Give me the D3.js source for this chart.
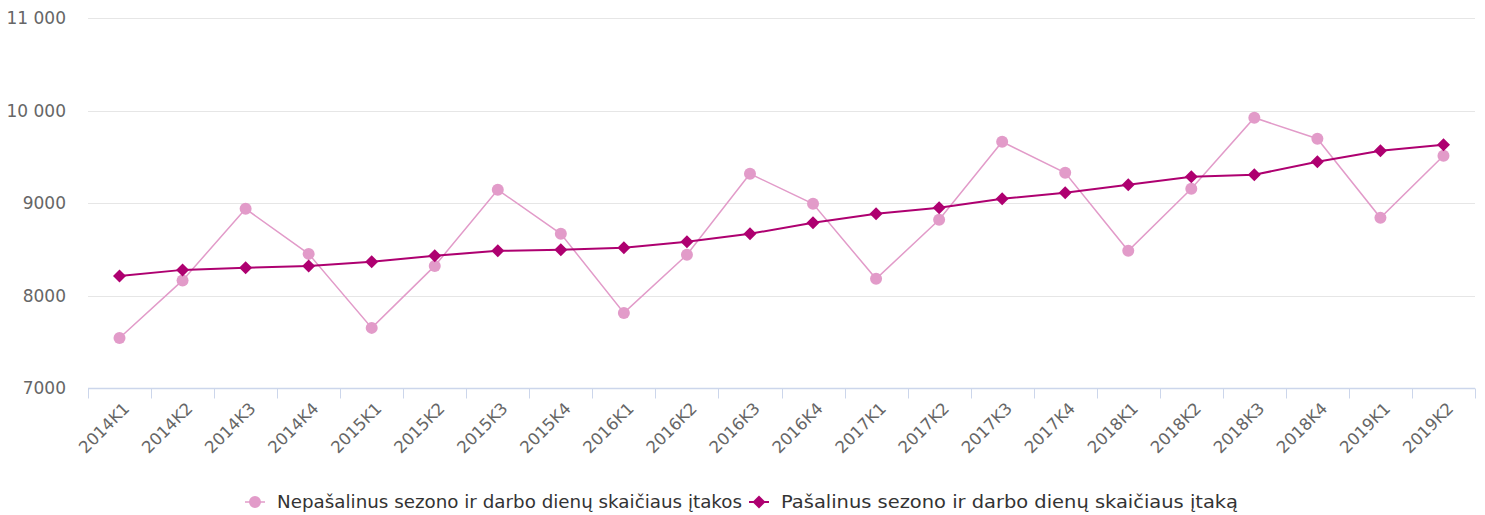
<!DOCTYPE html>
<html>
<head>
<meta charset="utf-8">
<script src="https://cdn.jsdelivr.net/npm/d3@7"></script>
<style>
  body { margin: 0; background: #fff; }
  svg { font-family: "DejaVu Sans", sans-serif; }
</style>
</head>
<body>
<svg id="chart" width="1485" height="515"></svg>
<script>
const quarters = ["2014K1","2014K2","2014K3","2014K4","2015K1","2015K2","2015K3","2015K4",
  "2016K1","2016K2","2016K3","2016K4","2017K1","2017K2","2017K3","2017K4",
  "2018K1","2018K2","2018K3","2018K4","2019K1","2019K2"];
const unadjusted = [7541, 8163, 8937, 8450, 7650, 8320, 9143, 8667,
  7812, 8440, 9316, 8991, 8180, 8818, 9662, 9327,
  8483, 9154, 9922, 9695, 8840, 9511];
const adjusted = [8212, 8277, 8299, 8320, 8364, 8429, 8483, 8494,
  8515, 8580, 8667, 8786, 8883, 8948, 9045, 9110,
  9197, 9284, 9305, 9446, 9565, 9630];
const yTicks = [7000, 8000, 9000, 10000, 11000];
const seriesNames = ["Nepašalinus sezono ir darbo dienų skaičiaus įtakos",
  "Pašalinus sezono ir darbo dienų skaičiaus įtaką"];
const colors = ["#e29bc9", "#ae0070"];

const svg = d3.select("#chart");
const plotLeft = 88, plotRight = 1475, plotTop = 18, plotBottom = 388;

const x = d3.scaleBand().domain(quarters).range([plotLeft, plotRight]);
const y = d3.scaleLinear().domain([7000, 11000]).range([plotBottom, plotTop]);

const fmt = v => v >= 10000 ? d3.format(",")(v).replace(/,/g, " ") : String(v);

// grid lines
svg.append("g").selectAll("line")
    .data(yTicks.filter(t => t > 7000))
    .enter().append("line")
    .attr("x1", plotLeft).attr("x2", plotRight)
    .attr("y1", d => Math.round(y(d)) + 0.5).attr("y2", d => Math.round(y(d)) + 0.5)
    .style("stroke", "#e6e6e6").style("stroke-width", 1);

// y labels
svg.append("g").selectAll("text")
    .data(yTicks)
    .enter().append("text")
    .attr("x", 66).attr("y", d => y(d) + 6)
    .attr("text-anchor", "end")
    .style("font-size", "17px").style("fill", "#666")
    .text(fmt);

// x axis
const xg = svg.append("g").attr("transform", "translate(0," + (plotBottom + 0.5) + ")");
xg.append("line").attr("x1", plotLeft).attr("x2", plotRight)
    .style("stroke", "#ccd6eb").style("stroke-width", 1.5);
xg.selectAll(".tick")
    .data(quarters.concat(["end"]))
    .enter().append("line")
    .attr("x1", (d, i) => Math.round(plotLeft + i * x.bandwidth()) + 0.5)
    .attr("x2", (d, i) => Math.round(plotLeft + i * x.bandwidth()) + 0.5)
    .attr("y1", 0).attr("y2", 10)
    .style("stroke", "#ccd6eb").style("stroke-width", 1);
xg.selectAll("text")
    .data(quarters)
    .enter().append("text")
    .attr("transform", d => "translate(" + (x(d) + x.bandwidth() / 2 + 11) + ",21) rotate(-45)")
    .attr("text-anchor", "end")
    .style("font-size", "16.5px").style("fill", "#666")
    .text(d => d);

const cx = d => x(d) + x.bandwidth() / 2;
const line = d3.line().x((d, i) => cx(quarters[i])).y(d => y(d));

// unadjusted series
svg.append("path").datum(unadjusted)
    .attr("d", line).style("fill", "none")
    .style("stroke", colors[0]).style("stroke-width", 1.5);
svg.append("g").selectAll("circle")
    .data(unadjusted)
    .enter().append("circle")
    .attr("cx", (d, i) => cx(quarters[i])).attr("cy", d => y(d))
    .attr("r", 6).style("fill", colors[0]);

// adjusted series
const diamond = "M0,-6.5L6.5,0L0,6.5L-6.5,0Z";
svg.append("path").datum(adjusted)
    .attr("d", line).style("fill", "none")
    .style("stroke", colors[1]).style("stroke-width", 2);
svg.append("g").selectAll("path")
    .data(adjusted)
    .enter().append("path")
    .attr("d", diamond)
    .attr("transform", (d, i) => "translate(" + cx(quarters[i]) + "," + y(d) + ")")
    .style("fill", colors[1]);

// legend
const legendX = [245, 749];
const legendW = [465, 457];
const lg = svg.append("g").selectAll("g")
    .data(seriesNames)
    .enter().append("g")
    .attr("transform", (d, i) => "translate(" + legendX[i] + ",502)");
lg.append("line").attr("x1", 0).attr("x2", 20)
    .style("stroke", (d, i) => colors[i]).style("stroke-width", (d, i) => i ? 2 : 1.5);
lg.append("path")
    .attr("d", (d, i) => i ? diamond : d3.symbol(d3.symbolCircle, 113)())
    .attr("transform", "translate(10,0)")
    .style("fill", (d, i) => colors[i]);
lg.append("text")
    .attr("x", 32).attr("y", 6)
    .attr("textLength", (d, i) => legendW[i])
    .attr("lengthAdjust", "spacingAndGlyphs")
    .style("font-size", "17px").style("fill", "#333")
    .text(d => d);
</script>
</body>
</html>
